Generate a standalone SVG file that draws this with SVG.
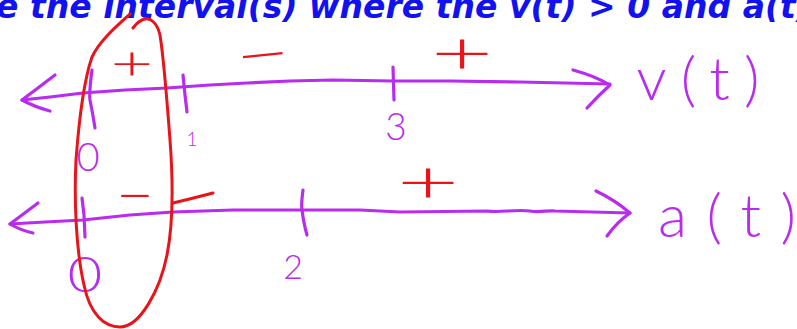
<svg xmlns="http://www.w3.org/2000/svg" width="797" height="329" viewBox="0 0 797 329">
<style>
.pen{fill:none;stroke:#B82CF0;stroke-width:3.2;stroke-linecap:round;stroke-linejoin:round}
.red{fill:none;stroke:#E8141A;stroke-width:3;stroke-linecap:round;stroke-linejoin:round}
.lbl{fill:#B82CF0;font-family:Lato,"DejaVu Sans",sans-serif;font-weight:300;text-anchor:middle}
.sign{fill:#E8141A;font-family:Lato,"DejaVu Sans",sans-serif;font-weight:300;font-size:60px;text-anchor:middle}
.title{fill:#1212F0;font-family:"DejaVu Sans",sans-serif;font-weight:bold;font-style:italic;font-size:33px}
</style>
<rect width="797" height="329" fill="#fff"/>
<text class="title" x="-4" y="18" textLength="815" lengthAdjust="spacing">e the interval(s) where the v(t) &gt; 0 and a(t)</text>

<g id="v-line">
<path class="pen" d="M22,100 L50,97 L83,93 L125,90 L167,88 L210,85 L247,83 L290,81 L333,80 L393,81 L450,81 L520,82 L610,84"/>
<path class="pen" d="M55,75 Q38,88 22,100 Q35,107 50,111"/>
<path class="pen" d="M573,70 Q595,76 610,85 Q598,96 587,108"/>
<path class="pen" d="M92,70 Q89,93 90,100 Q93,115 95,128"/>
<path class="pen" d="M183,75 L185,95 L187,112"/>
<path class="pen" d="M393,67 L394,100"/>
<text class="lbl" x="88" y="171" font-size="40">0</text>
<text class="lbl" x="192" y="146" font-size="19">1</text>
<text class="lbl" x="396" y="140" font-size="37">3</text>
<text class="lbl" x="698" y="100" font-size="60" textLength="123" lengthAdjust="spacing">v(t)</text>
</g>

<g id="a-line">
<path class="pen" d="M10,224 L45,222 L83,220 L130,215 L173,212 L233,210 L300,210 L360,210 L400,212 L487,211 C500,213 515,209 530,211 C540,213 548,210 555,211 L630,213"/>
<path class="pen" d="M38,203 Q22,215 10,224 Q20,230 33,233"/>
<path class="pen" d="M596,191 Q615,200 630,213 Q617,222 607,236"/>
<path class="pen" d="M82,198 L84,215 L85,237"/>
<path class="pen" d="M303,190 Q301,205 302,210 Q304,225 307,235"/>
<text class="lbl" transform="translate(85,292) scale(1.2,1)" font-size="50">0</text>
<text class="lbl" x="293" y="279" font-size="34">2</text>
<text class="lbl" x="727" y="237" font-size="60" textLength="138" lengthAdjust="spacing">a(t)</text>
</g>

<g id="signs">
<text class="sign" transform="translate(132,80) scale(1.23,0.8)">+</text>
<text class="sign" transform="translate(265,75) rotate(-6) scale(1.6,1)">−</text>
<text class="sign" transform="translate(462,74) scale(1.8,1)">+</text>
<text class="sign" transform="translate(135,216) scale(1.1,1)">−</text>
<text class="sign" transform="translate(428,203) scale(1.8,0.98)">+</text>
</g>

<g id="highlight">
<path class="red" d="M130,14 C118,25 100,40 92,57 C84,80 79,120 76,160 C74,200 76,250 84,285 C90,315 105,327 120,327 C140,327 160,290 167,255 C173,225 173,180 170,140 C167,100 164,60 160,35 C157,22 150,18 145,19 C140,20 136,24 133,28"/>
<path class="red" d="M173,203 Q190,199 213,193"/>
</g>
</svg>
